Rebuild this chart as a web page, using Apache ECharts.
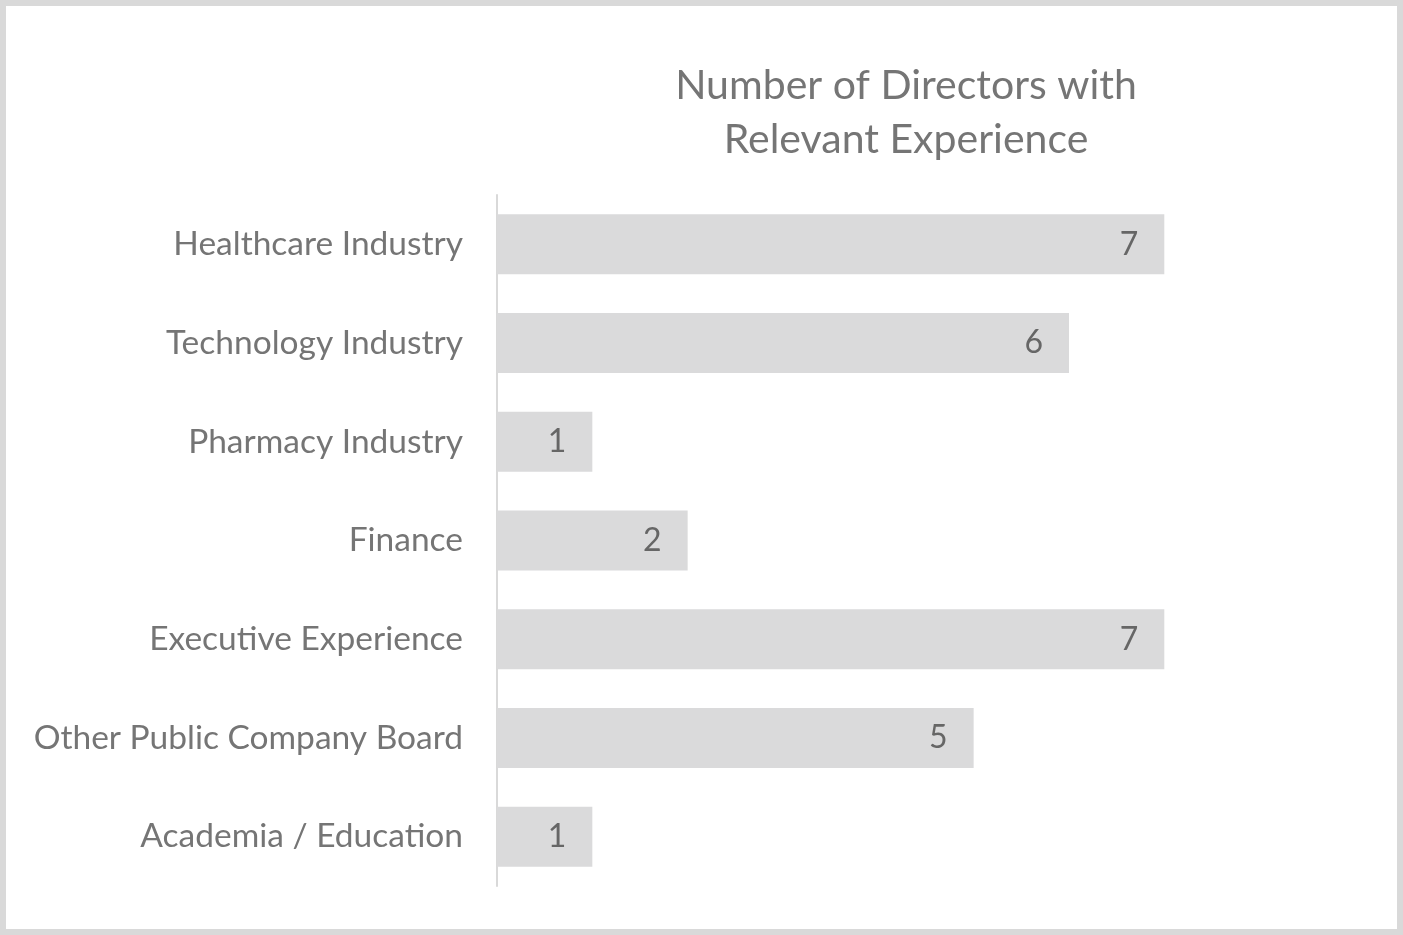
<!DOCTYPE html>
<html><head><meta charset="utf-8">
<script src="https://cdn.jsdelivr.net/npm/echarts@6/dist/echarts.min.js"></script>
<style>html,body{margin:0;padding:0;background:#fff}
#frame{position:absolute;left:0;top:0;width:1391px;height:923px;border:6px solid #d9d9d9;background:#fff}
#c{position:absolute;left:0;top:0;width:1403px;height:935px}</style>
</head><body><div id="frame"></div><div id="c"></div>
<script>
const categories = ["Healthcare Industry","Technology Industry","Pharmacy Industry","Finance","Executive Experience","Other Public Company Board","Academia / Education"];
const values = [7,6,1,2,7,5,1];
const titleText = "Number of Directors with\nRelevant Experience";
const chart = echarts.init(document.getElementById('c'));
const font = "Lato, 'Open Sans', sans-serif";
chart.setOption({
  animation:false,
  title:{text:titleText,left:901,top:54,textAlign:'center',textStyle:{fontFamily:font,fontSize:41,fontWeight:'normal',color:'#757575',lineHeight:54}},
  grid:{left:497,right:1403-497-8*95.33,top:195,bottom:935-886},
  xAxis:{type:'value',min:0,max:8,show:false},
  yAxis:{type:'category',inverse:true,data:categories,
    axisLine:{lineStyle:{color:'#d9d9d9',width:2}},axisTick:{show:false},
    axisLabel:{fontFamily:font,fontSize:33.5,color:'#757575',margin:34,padding:[2,0,0,0]}},
  series:[{type:'bar',data:values,barWidth:60,itemStyle:{color:'#dadadb'},
    label:{show:true,position:'insideRight',distance:26,fontFamily:font,fontSize:32,color:'#666',padding:[4,0,0,0]}}]
});
</script></body></html>
